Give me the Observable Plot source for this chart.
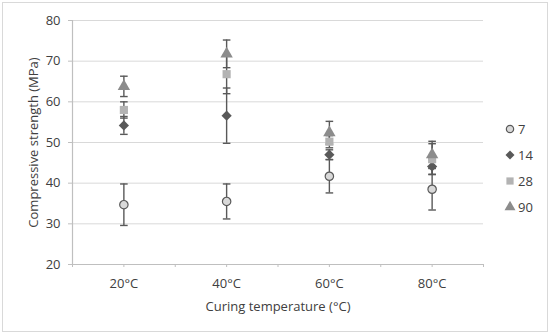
<!DOCTYPE html>
<html>
<head>
<meta charset="utf-8">
<script src="https://cdn.jsdelivr.net/npm/d3@7"></script>
<script src="https://cdn.jsdelivr.net/npm/@observablehq/plot@0.6"></script>
<style>
  body { margin: 0; background: #fff; }
  #wrap { position: relative; width: 550px; height: 335px; font-family: "Open Sans", sans-serif; }
  #frame { position: absolute; left: 2px; top: 2px; width: 544px; height: 328px; border: 1px solid #d9d9d9; pointer-events: none; }
  #legend { position: absolute; left: 503px; top: 116px; font-size: 13px; color: #404040; }
  #legend .row { display: flex; align-items: center; height: 26px; }
  #legend svg { margin-right: 1px; }
</style>
</head>
<body>
<div id="wrap"><div id="frame"></div><div id="legend"></div></div>
<script>
const temps = ["20°C", "40°C", "60°C", "80°C"];
const ages = ["7", "14", "28", "90"];
const mean7  = [34.7, 35.5, 41.7, 38.5];
const err7   = [5.1, 4.3, 4.1, 5.1];
const mean14 = [54.2, 56.6, 47.0, 44.1];
const err14  = [2.2, 6.8, 1.2, 1.9];
const mean28 = [58.0, 66.8, 50.2, 45.9];
const err28  = [2.0, 4.8, 1.5, 3.8];
const mean90 = [63.8, 71.8, 52.4, 47.0];
const err90  = [2.5, 3.4, 2.8, 3.3];
const yTicks = [20, 30, 40, 50, 60, 70, 80];

const symbols = ["circle", "diamond2", "square", "triangle"];
const fills = ["#d9d9d9", "#595959", "#b3b3b3", "#8c8c8c"];
const ink = "#404040";

const means = [mean7, mean14, mean28, mean90];
const errs = [err7, err14, err28, err90];
const rows = [];
ages.forEach((a, s) => temps.forEach((t, i) => rows.push({
  age: a, temp: t, xi: i, v: means[s][i], lo: means[s][i] - errs[s][i], hi: means[s][i] + errs[s][i]
})));

const centerTicks = d3.range(0, 4);
const edgeTicks = d3.range(-0.5, 3.51, 1);

// horizontal cap symbol for error bars
const capSymbol = { draw(ctx) { ctx.moveTo(-3.8, 0); ctx.lineTo(3.8, 0); } };

const chart = Plot.plot({
  width: 550, height: 335,
  marginLeft: 72, marginRight: 67, marginTop: 20, marginBottom: 71,
  style: { fontFamily: "Open Sans, sans-serif", fontSize: "12px", color: ink, background: "transparent" },
  x: { domain: [-0.5, 3.5] },
  y: { domain: [20, 80] },
  symbol: { domain: ages, range: symbols },
  color: { domain: ages, range: fills },
  marks: [
    Plot.gridY(yTicks.slice(1), { stroke: "#d9d9d9", strokeOpacity: 1, strokeWidth: 1 }),
    Plot.ruleY([20], { stroke: "#bfbfbf", strokeWidth: 1.2 }),
    Plot.ruleX([-0.5], { stroke: "#bfbfbf", strokeWidth: 1.2 }),
    Plot.axisY({ ticks: yTicks, tickSize: 4, tickPadding: 8, stroke: "#bfbfbf", fontSize: 13, label: null }),
    Plot.axisX({ ticks: centerTicks, tickSize: 3, tickPadding: 11, stroke: "#bfbfbf", fontSize: 13,
      tickFormat: d => temps[d], label: null }),
    Plot.axisX({ ticks: edgeTicks, tickSize: 3, stroke: "#bfbfbf", text: null, label: null }),
    Plot.text(["Curing temperature (°C)"], { frameAnchor: "bottom", dy: 46, fontSize: 13, fill: ink }),
    Plot.text(["Compressive strength (MPa)"], { frameAnchor: "left", textAnchor: "middle", dx: -39, rotate: -90, fontSize: 13, fill: ink }),
    Plot.ruleX(rows, { x: "xi", y1: "lo", y2: "hi", stroke: "#595959", strokeWidth: 1.4 }),
    Plot.dot(rows, { x: "xi", y: "lo", symbol: capSymbol, stroke: "#595959", strokeWidth: 1.4, fill: "none" }),
    Plot.dot(rows, { x: "xi", y: "hi", symbol: capSymbol, stroke: "#595959", strokeWidth: 1.4, fill: "none" }),
    Plot.dot(rows.filter(d => d.age === "7"), { x: "xi", y: "v", symbol: "age", fill: "age", stroke: "#595959", strokeWidth: 1.2, r: 4.2 }),
    Plot.dot(rows.filter(d => d.age !== "7"), { x: "xi", y: "v", symbol: "age", fill: "age", r: 4.6 })
  ]
});
document.getElementById("wrap").prepend(chart);

// legend
const leg = document.getElementById("legend");
const symMap = { circle: d3.symbolCircle, diamond2: d3.symbolDiamond2, square: d3.symbolSquare, triangle: d3.symbolTriangle };
ages.forEach((a, i) => {
  const row = document.createElement("div");
  row.className = "row";
  const svg = d3.create("svg").attr("width", 14).attr("height", 14);
  svg.append("path")
    .attr("transform", "translate(7,7)")
    .attr("d", d3.symbol(symMap[symbols[i]], i === 0 ? 42 : 52)())
    .attr("fill", fills[i])
    .attr("stroke", i === 0 ? "#595959" : "none")
    .attr("stroke-width", 1.2);
  row.appendChild(svg.node());
  const sp = document.createElement("span");
  sp.textContent = a;
  row.appendChild(sp);
  leg.appendChild(row);
});
</script>
</body>
</html>
